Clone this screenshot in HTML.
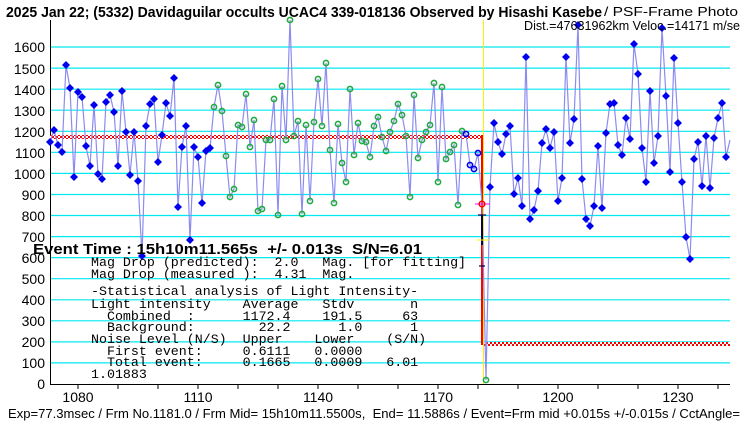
<!DOCTYPE html>
<html><head><meta charset="utf-8"><style>
html,body{margin:0;padding:0;background:#fff;width:740px;height:425px;overflow:hidden}
svg{display:block}
.t{font-family:"Liberation Sans",sans-serif}
.m{font-family:"Liberation Mono",monospace;font-size:13.3px;white-space:pre}
</style></head><body>
<svg width="740" height="425" viewBox="0 0 740 425" xmlns="http://www.w3.org/2000/svg" xml:space="preserve">
<defs>
<pattern id="ck" width="4" height="4" patternUnits="userSpaceOnUse">
<rect width="4" height="4" fill="#fff"/><rect width="2" height="2" fill="#f00"/><rect x="2" y="2" width="2" height="2" fill="#f00"/>
</pattern>
<path id="d" d="M0,-4 L4,0 L0,4 L-4,0Z" fill="#0000ee"/>
<circle id="g" r="2.6" fill="none" stroke="#22aa44" stroke-width="1.6"/>
<circle id="h" r="2.6" fill="none" stroke="#0000ee" stroke-width="1.6"/>
</defs>
<rect width="740" height="425" fill="#fff"/>
<g stroke="#00e8f0" stroke-width="1.2">
<line x1="50" x2="730" y1="362.9" y2="362.9"/><line x1="50" x2="730" y1="341.9" y2="341.9"/>
<line x1="50" x2="730" y1="320.8" y2="320.8"/><line x1="50" x2="730" y1="299.8" y2="299.8"/>
<line x1="50" x2="730" y1="278.7" y2="278.7"/><line x1="50" x2="730" y1="257.6" y2="257.6"/>
<line x1="50" x2="730" y1="236.6" y2="236.6"/><line x1="50" x2="730" y1="215.5" y2="215.5"/>
<line x1="50" x2="730" y1="194.5" y2="194.5"/><line x1="50" x2="730" y1="173.4" y2="173.4"/>
<line x1="50" x2="730" y1="152.3" y2="152.3"/><line x1="50" x2="730" y1="131.3" y2="131.3"/>
<line x1="50" x2="730" y1="110.2" y2="110.2"/><line x1="50" x2="730" y1="89.2" y2="89.2"/>
<line x1="50" x2="730" y1="68.1" y2="68.1"/><line x1="50" x2="730" y1="47" y2="47"/>
</g>
<g stroke="#000" stroke-width="1">
<line x1="50.5" y1="20" x2="50.5" y2="384.5"/>
<line x1="50" y1="384.5" x2="730" y2="384.5"/>
<line x1="78" y1="384" x2="78" y2="389"/><line x1="118" y1="384" x2="118" y2="389"/><line x1="158" y1="384" x2="158" y2="389"/>
<line x1="198" y1="384" x2="198" y2="389"/><line x1="238" y1="384" x2="238" y2="389"/><line x1="278" y1="384" x2="278" y2="389"/>
<line x1="318" y1="384" x2="318" y2="389"/><line x1="358" y1="384" x2="358" y2="389"/><line x1="398" y1="384" x2="398" y2="389"/>
<line x1="438" y1="384" x2="438" y2="389"/><line x1="478" y1="384" x2="478" y2="389"/><line x1="518" y1="384" x2="518" y2="389"/>
<line x1="558" y1="384" x2="558" y2="389"/><line x1="598" y1="384" x2="598" y2="389"/><line x1="638" y1="384" x2="638" y2="389"/>
<line x1="678" y1="384" x2="678" y2="389"/><line x1="718" y1="384" x2="718" y2="389"/>
</g>
<g class="t" font-size="14" text-anchor="end" fill="#000">
<text x="45" y="389">0</text><text x="45" y="368">100</text><text x="45" y="347">200</text><text x="45" y="326">300</text>
<text x="45" y="305">400</text><text x="45" y="284">500</text><text x="45" y="263">600</text><text x="45" y="242">700</text>
<text x="45" y="221">800</text><text x="45" y="200">900</text><text x="45" y="179">1000</text><text x="45" y="158">1100</text>
<text x="45" y="137">1200</text><text x="45" y="116">1300</text><text x="45" y="95">1400</text><text x="45" y="74">1500</text>
<text x="45" y="52">1600</text>
</g>
<g class="t" font-size="14" text-anchor="middle" fill="#000">
<text x="78" y="402">1080</text><text x="198" y="402">1110</text><text x="318" y="402">1140</text>
<text x="438" y="402">1170</text><text x="558" y="402">1200</text><text x="678" y="402">1230</text>
</g>
<line x1="483.5" y1="20" x2="483.5" y2="384" stroke="#ffee00" stroke-width="1"/>
<rect x="50" y="135" width="432" height="4" fill="url(#ck)"/>
<rect x="481" y="135" width="2" height="210" fill="#f00"/>
<rect x="484" y="342" width="246" height="4" fill="url(#ck)"/>
<polyline fill="none" stroke="#8c8cf0" stroke-width="1.2" points="50,142 54,130 58,145 62,152 66,65 70,88 74,177 78,92 82,97 86,146 90,166 94,105 98,174 102,179 106,102 110,95 114,112 118,166 122,91 126,132 130,175 134,132 138,181 142,256 146,126 150,104 154,99 158,162 162,135 166,103 170,116 174,78 178,207 182,147 186,126 190,240 194,147 198,157 202,203 206,151 210,148 214,107 218,85 222,111 226,156 230,197 234,189 238,125 242,127 246,94 250,147 254,120 258,211 262,209 266,140 270,140 274,99 278,215 282,86 286,140 290,20 294,136 298,121 302,214 306,125 310,201 314,122 318,79 322,126 326,63 330,150 334,203 338,124 342,163 346,182 350,89 354,155 358,123 362,141 366,142 370,157 374,126 378,117 382,137 386,151 390,132 394,121 398,104 402,115 406,136 410,197 414,95 418,158 422,140 426,132 430,125 434,83 438,182 442,87 446,159 450,152 454,145 458,205 462,131 466,134 470,165 474,169 478,153 482,204 486,380 490,187 494,123 498,142 502,154 506,134 510,126 514,194 518,178 522,206 526,57 530,219 534,210 538,191 542,143 546,129 550,148 554,132 558,201 562,178 566,57 570,143 574,119 578,25 582,179 586,219 590,226 594,206 598,146 602,208 606,133 610,104 614,103 618,145 622,155 626,118 630,139 634,44 638,74 642,148 646,182 650,91 654,163 658,136 662,28 666,96 670,172 674,58 678,123 682,182 686,237 690,259 694,159 698,142 702,186 706,136 710,188 714,138 718,118 722,103 726,157 730,140"/>
<g>
<use href="#d" x="50" y="142"/><use href="#d" x="54" y="130"/><use href="#d" x="58" y="145"/><use href="#d" x="62" y="152"/><use href="#d" x="66" y="65"/><use href="#d" x="70" y="88"/><use href="#d" x="74" y="177"/><use href="#d" x="78" y="92"/><use href="#d" x="82" y="97"/><use href="#d" x="86" y="146"/><use href="#d" x="90" y="166"/><use href="#d" x="94" y="105"/><use href="#d" x="98" y="174"/><use href="#d" x="102" y="179"/><use href="#d" x="106" y="102"/><use href="#d" x="110" y="95"/><use href="#d" x="114" y="112"/><use href="#d" x="118" y="166"/><use href="#d" x="122" y="91"/><use href="#d" x="126" y="132"/><use href="#d" x="130" y="175"/><use href="#d" x="134" y="132"/><use href="#d" x="138" y="181"/><use href="#d" x="142" y="256"/><use href="#d" x="146" y="126"/><use href="#d" x="150" y="104"/><use href="#d" x="154" y="99"/><use href="#d" x="158" y="162"/><use href="#d" x="162" y="135"/><use href="#d" x="166" y="103"/><use href="#d" x="170" y="116"/><use href="#d" x="174" y="78"/><use href="#d" x="178" y="207"/><use href="#d" x="182" y="147"/><use href="#d" x="186" y="126"/><use href="#d" x="190" y="240"/><use href="#d" x="194" y="147"/><use href="#d" x="198" y="157"/><use href="#d" x="202" y="203"/><use href="#d" x="206" y="151"/><use href="#d" x="210" y="148"/>
<use href="#d" x="490" y="187"/><use href="#d" x="494" y="123"/><use href="#d" x="498" y="142"/><use href="#d" x="502" y="154"/><use href="#d" x="506" y="134"/><use href="#d" x="510" y="126"/><use href="#d" x="514" y="194"/><use href="#d" x="518" y="178"/><use href="#d" x="522" y="206"/><use href="#d" x="526" y="57"/><use href="#d" x="530" y="219"/><use href="#d" x="534" y="210"/><use href="#d" x="538" y="191"/><use href="#d" x="542" y="143"/><use href="#d" x="546" y="129"/><use href="#d" x="550" y="148"/><use href="#d" x="554" y="132"/><use href="#d" x="558" y="201"/><use href="#d" x="562" y="178"/><use href="#d" x="566" y="57"/><use href="#d" x="570" y="143"/><use href="#d" x="574" y="119"/><use href="#d" x="578" y="25"/><use href="#d" x="582" y="179"/><use href="#d" x="586" y="219"/><use href="#d" x="590" y="226"/><use href="#d" x="594" y="206"/><use href="#d" x="598" y="146"/><use href="#d" x="602" y="208"/><use href="#d" x="606" y="133"/><use href="#d" x="610" y="104"/><use href="#d" x="614" y="103"/><use href="#d" x="618" y="145"/><use href="#d" x="622" y="155"/><use href="#d" x="626" y="118"/><use href="#d" x="630" y="139"/><use href="#d" x="634" y="44"/><use href="#d" x="638" y="74"/><use href="#d" x="642" y="148"/><use href="#d" x="646" y="182"/><use href="#d" x="650" y="91"/><use href="#d" x="654" y="163"/><use href="#d" x="658" y="136"/><use href="#d" x="662" y="28"/><use href="#d" x="666" y="96"/><use href="#d" x="670" y="172"/><use href="#d" x="674" y="58"/><use href="#d" x="678" y="123"/><use href="#d" x="682" y="182"/><use href="#d" x="686" y="237"/><use href="#d" x="690" y="259"/><use href="#d" x="694" y="159"/><use href="#d" x="698" y="142"/><use href="#d" x="702" y="186"/><use href="#d" x="706" y="136"/><use href="#d" x="710" y="188"/><use href="#d" x="714" y="138"/><use href="#d" x="718" y="118"/><use href="#d" x="722" y="103"/><use href="#d" x="726" y="157"/>
</g>
<g>
<use href="#g" x="214" y="107"/><use href="#g" x="218" y="85"/><use href="#g" x="222" y="111"/><use href="#g" x="226" y="156"/><use href="#g" x="230" y="197"/><use href="#g" x="234" y="189"/><use href="#g" x="238" y="125"/><use href="#g" x="242" y="127"/><use href="#g" x="246" y="94"/><use href="#g" x="250" y="147"/><use href="#g" x="254" y="120"/><use href="#g" x="258" y="211"/><use href="#g" x="262" y="209"/><use href="#g" x="266" y="140"/><use href="#g" x="270" y="140"/><use href="#g" x="274" y="99"/><use href="#g" x="278" y="215"/><use href="#g" x="282" y="86"/><use href="#g" x="286" y="140"/><use href="#g" x="290" y="20"/><use href="#g" x="294" y="136"/><use href="#g" x="298" y="121"/><use href="#g" x="302" y="214"/><use href="#g" x="306" y="125"/><use href="#g" x="310" y="201"/><use href="#g" x="314" y="122"/><use href="#g" x="318" y="79"/><use href="#g" x="322" y="126"/><use href="#g" x="326" y="63"/><use href="#g" x="330" y="150"/><use href="#g" x="334" y="203"/><use href="#g" x="338" y="124"/><use href="#g" x="342" y="163"/><use href="#g" x="346" y="182"/><use href="#g" x="350" y="89"/><use href="#g" x="354" y="155"/><use href="#g" x="358" y="123"/><use href="#g" x="362" y="141"/><use href="#g" x="366" y="142"/><use href="#g" x="370" y="157"/><use href="#g" x="374" y="126"/><use href="#g" x="378" y="117"/><use href="#g" x="382" y="137"/><use href="#g" x="386" y="151"/><use href="#g" x="390" y="132"/><use href="#g" x="394" y="121"/><use href="#g" x="398" y="104"/><use href="#g" x="402" y="115"/><use href="#g" x="406" y="136"/><use href="#g" x="410" y="197"/><use href="#g" x="414" y="95"/><use href="#g" x="418" y="158"/><use href="#g" x="422" y="140"/><use href="#g" x="426" y="132"/><use href="#g" x="430" y="125"/><use href="#g" x="434" y="83"/><use href="#g" x="438" y="182"/><use href="#g" x="442" y="87"/><use href="#g" x="446" y="159"/><use href="#g" x="450" y="152"/><use href="#g" x="454" y="145"/><use href="#g" x="458" y="205"/><use href="#g" x="462" y="131"/><use href="#g" x="486" y="380"/>
<use href="#h" x="466" y="134"/><use href="#h" x="470" y="165"/><use href="#h" x="474" y="169"/><use href="#h" x="478" y="153"/>
</g>
<line x1="475" y1="204" x2="490" y2="204" stroke="#ff00ff" stroke-width="1"/>
<circle cx="482" cy="204" r="2.8" fill="none" stroke="#f00" stroke-width="1.5"/>
<line x1="478" y1="215" x2="486" y2="215" stroke="#000050" stroke-width="1.2"/>
<rect x="481" y="215" width="2" height="30" fill="#000060"/>
<line x1="477" y1="240" x2="490" y2="240" stroke="#ffee00" stroke-width="1"/>
<line x1="479" y1="266" x2="485" y2="266" stroke="#000050" stroke-width="1.2"/>
<text class="t" x="6" y="17" font-size="15" font-weight="bold" textLength="596" lengthAdjust="spacingAndGlyphs">2025 Jan 22; (5332) Davidaguilar occults UCAC4 339-018136 Observed by Hisashi Kasebe</text>
<text class="t" x="604" y="16" font-size="13" textLength="134" lengthAdjust="spacingAndGlyphs">/ PSF-Frame Photo</text>
<text class="t" x="524" y="30" font-size="12.5" textLength="216" lengthAdjust="spacingAndGlyphs">Dist.=47631962km Veloc.=14171 m/se</text>
<text class="t" x="33" y="254" font-size="14.5" font-weight="bold" textLength="389" lengthAdjust="spacingAndGlyphs" xml:space="preserve">Event Time : 15h10m11.565s  +/- 0.013s  S/N=6.01</text>
<g class="m" fill="#000">
<text x="91" y="266" xml:space="preserve">Mag Drop (predicted):  2.0   Mag. [for fitting]</text>
<text x="91" y="278" xml:space="preserve">Mag Drop (measured ):  4.31  Mag.</text>
<text x="91" y="295" xml:space="preserve">-Statistical analysis of Light Intensity-</text>
<text x="91" y="308" xml:space="preserve">Light intensity    Average   Stdv       n</text>
<text x="91" y="320" xml:space="preserve">  Combined  :      1172.4    191.5     63</text>
<text x="91" y="331" xml:space="preserve">  Background:        22.2      1.0      1</text>
<text x="91" y="343" xml:space="preserve">Noise Level (N/S)  Upper    Lower    (S/N)</text>
<text x="91" y="355" xml:space="preserve">  First event:     0.6111   0.0000</text>
<text x="91" y="366" xml:space="preserve">  Total event:     0.1665   0.0009   6.01</text>
<text x="91" y="378">1.01883</text>
</g>
<text class="t" x="8" y="418" font-size="13" textLength="732" lengthAdjust="spacingAndGlyphs" xml:space="preserve">Exp=77.3msec / Frm No.1181.0 / Frm Mid= 15h10m11.5500s,  End= 11.5886s / Event=Frm mid +0.015s +/-0.015s / CctAngle=</text>
</svg>
</body></html>
